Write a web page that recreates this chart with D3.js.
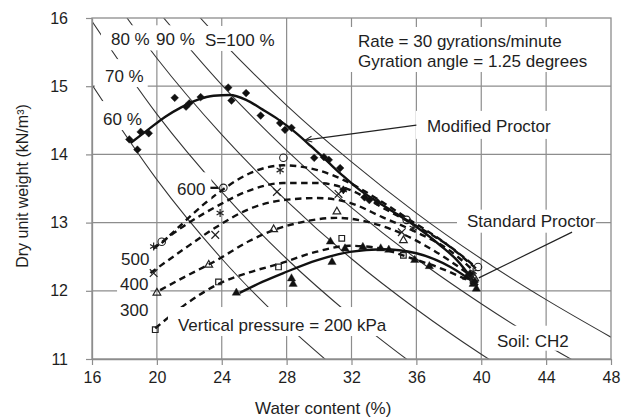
<!DOCTYPE html>
<html><head><meta charset="utf-8">
<script src="https://cdn.jsdelivr.net/npm/d3@7"></script>
<style>
body{margin:0;background:#fff}
svg{display:block}
text{font-family:"Liberation Sans",Arial,Helvetica,sans-serif;fill:#1e1e1e}
</style>
</head><body>
<svg id="chart" width="622" height="419"></svg>
<script>
// ---------------- data ----------------
const xTickValues = [16, 20, 24, 28, 32, 36, 40, 44, 48];
const yTickValues = [11, 12, 13, 14, 15, 16];
const xTitle = "Water content (%)";
const yTitle = "Dry unit weight (kN/m³)";

// saturation reference lines, [water content %, dry unit weight]
const saturationNames = ["60 %", "70 %", "80 %", "90 %", "S=100 %"];
const sat60  = [[16,15.02],[20,13.63],[24,12.47],[28,11.50],[32,10.67]];
const sat70  = [[16,15.95],[20,14.59],[24,13.45],[28,12.47],[32,11.63],[36,10.89]];
const sat80  = [[16,16.73],[20,15.41],[24,14.29],[28,13.32],[32,12.47],[36,11.73],[40,11.07],[44,10.48]];
const sat90  = [[20,16.12],[24,15.02],[28,14.06],[32,13.22],[36,12.47],[40,11.81],[44,11.21],[48,10.67]];
const sat100 = [[22,16.18],[24,15.66],[28,14.72],[32,13.89],[36,13.14],[40,12.47],[44,11.87],[48,11.32]];

// measured points
const modifiedPts = [[18.3,14.22],[18.8,14.07],[19.0,14.33],[19.5,14.31],[21.1,14.83],[21.8,14.70],[22.0,14.75],[22.7,14.84],[24.4,14.98],[24.6,14.79],[25.5,14.90],[26.4,14.57],[27.6,14.46],[27.9,14.36],[28.3,14.39],[29.7,13.95],[30.3,13.96],[30.6,13.92],[31.3,13.80],[31.5,13.48],[32.8,13.37],[33.1,13.33],[33.6,13.30],[39.3,12.25],[39.6,12.13]];
const standardPts = [[24.9,11.97],[28.3,12.18],[28.4,12.10],[30.7,12.72],[30.8,12.42],[31.6,12.62],[32.7,12.64],[33.8,12.62],[34.3,12.60],[35.9,12.45],[36.8,12.36],[39.1,12.20],[39.5,12.10],[39.7,12.03]];
const p600 = [[20.3,12.72],[24.1,13.51],[27.8,13.95],[35.4,13.04],[39.8,12.35]];
const p500 = [[19.8,12.65],[23.9,13.14],[27.6,13.77],[31.5,13.48],[35.8,12.92],[39.5,12.28]];
const p400 = [[19.8,12.26],[23.6,12.82],[27.4,13.45],[31.2,13.42],[35.1,12.86],[39.4,12.22]];
const p300 = [[20.0,11.97],[23.2,12.38],[27.2,12.90],[31.1,13.16],[35.2,12.74],[39.6,12.18]];
const p200 = [[19.9,11.43],[23.8,12.13],[27.5,12.35],[31.4,12.77],[35.2,12.52],[39.5,12.15]];

// fitted curves
const modifiedFit = [[18.4,14.17],[19.5,14.37],[20.5,14.55],[21.5,14.69],[22.5,14.80],[23.5,14.86],[24.5,14.87],[25.5,14.80],[26.5,14.66],[27.5,14.51],[28.5,14.33],[29.5,14.12],[30.5,13.90],[31.5,13.68],[32.5,13.48],[33.5,13.32],[34.5,13.17],[35.5,13.02],[36.5,12.85],[37.5,12.66],[38.5,12.45],[39.6,12.12]];
const standardFit = [[25.1,11.97],[26.5,12.13],[27.8,12.26],[29.9,12.45],[31.9,12.57],[33.9,12.61],[36.0,12.55],[38.1,12.35],[39.8,12.08]];
const fit600 = [[20.3,12.70],[21.6,12.99],[22.9,13.27],[24.1,13.49],[25.7,13.72],[27.8,13.84],[29.9,13.77],[31.9,13.58],[33.9,13.30],[35.4,13.07],[38.1,12.64],[39.8,12.30]];
const fit500 = [[19.8,12.62],[21.6,12.94],[23.7,13.24],[25.7,13.47],[27.8,13.58],[29.9,13.58],[31.9,13.48],[33.9,13.22],[36.0,12.95],[38.0,12.66],[39.6,12.36]];
const fit400 = [[19.6,12.26],[21.6,12.60],[23.7,12.94],[25.7,13.20],[27.8,13.33],[29.9,13.36],[31.9,13.29],[33.9,13.08],[36.0,12.86],[38.0,12.60],[39.5,12.30]];
const fit300 = [[20.2,12.01],[21.6,12.19],[23.7,12.45],[25.7,12.73],[27.2,12.89],[28.8,13.00],[31.1,13.07],[33.0,13.01],[35.0,12.85],[37.0,12.60],[39.5,12.20]];
const fit200 = [[19.9,11.45],[21.7,11.79],[23.8,12.10],[25.7,12.27],[27.6,12.40],[29.8,12.57],[31.9,12.66],[33.8,12.62],[35.4,12.50],[37.5,12.33],[39.5,12.12]];

const pressureLabels = ["600", "500", "400", "300", "Vertical pressure = 200 kPa"];
const noteLines = ["Rate = 30 gyrations/minute", "Gyration angle = 1.25 degrees"];
const curveNames = ["Modified Proctor", "Standard Proctor"];
const soilLabel = "Soil: CH2";

// ---------------- layout ----------------
const svg = d3.select("#chart");
const x = d3.scaleLinear().domain([16, 48]).range([92, 611]);
const y = d3.scaleLinear().domain([11, 16]).range([359, 18]);
const gridColor = "#8d8d8d";
const font = 17;

svg.append("defs").append("clipPath").attr("id", "plot")
  .append("rect").attr("x", x(16)).attr("y", y(16)).attr("width", x(48) - x(16)).attr("height", y(11) - y(16));
svg.select("defs").append("marker").attr("id", "arrow").attr("viewBox", "-10 -6 12 12")
  .attr("markerWidth", 10).attr("markerHeight", 10).attr("refX", 0).attr("refY", 0).attr("orient", "auto")
  .attr("markerUnits", "userSpaceOnUse")
  .append("path").attr("d", "M-8,-3.5 L0,0 L-8,3.5").attr("fill", "none").attr("stroke", "#222").attr("stroke-width", 1.2);

// grid
const grid = svg.append("g");
grid.selectAll(".vx").data(xTickValues.slice(1, -1)).join("line")
  .attr("x1", d => x(d)).attr("x2", d => x(d)).attr("y1", y(16)).attr("y2", y(11))
  .attr("stroke", gridColor).attr("stroke-width", 1.2);
grid.selectAll(".hy").data(yTickValues.slice(1, -1)).join("line")
  .attr("y1", d => y(d)).attr("y2", d => y(d)).attr("x1", x(16)).attr("x2", x(48))
  .attr("stroke", gridColor).attr("stroke-width", 1.2);

// saturation lines
const line = d3.line().x(d => x(d[0])).y(d => y(d[1])).curve(d3.curveMonotoneX);
const satG = svg.append("g").attr("clip-path", "url(#plot)");
[sat60, sat70, sat80, sat90, sat100].forEach(s => {
  satG.append("path").attr("d", line(s)).attr("fill", "none").attr("stroke", "#333").attr("stroke-width", 1.05);
});

// plot border
svg.append("rect").attr("x", x(16)).attr("y", y(16)).attr("width", x(48) - x(16)).attr("height", y(11) - y(16))
  .attr("fill", "none").attr("stroke", gridColor).attr("stroke-width", 1.3);

// axes
const xAxis = svg.append("g").attr("transform", `translate(0,${y(11)})`)
  .call(d3.axisBottom(x).tickValues(xTickValues).tickSize(6).tickSizeOuter(0).tickPadding(7).tickFormat(d3.format("d")));
const yAxis = svg.append("g").attr("transform", `translate(${x(16)},0)`)
  .call(d3.axisLeft(y).tickValues(yTickValues).tickSize(6).tickSizeOuter(0).tickPadding(18).tickFormat(d3.format("d")));
[xAxis, yAxis].forEach(a => {
  a.select(".domain").attr("stroke", gridColor).attr("stroke-width", 1.3);
  a.selectAll(".tick line").attr("stroke", gridColor).attr("stroke-width", 1.2);
  a.selectAll(".tick text").attr("font-size", 16).attr("fill", "#1e1e1e")
    .attr("font-family", '"Liberation Sans",Arial,sans-serif');
});
svg.append("text").attr("x", 255).attr("y", 414).attr("font-size", font).text(xTitle);
svg.append("text").attr("transform", "translate(28,186) rotate(-90)").attr("text-anchor", "middle")
  .attr("font-size", 16).text(yTitle);

// curves
const curveG = svg.append("g");
[fit600, fit500, fit400, fit300, fit200].forEach(c => {
  curveG.append("path").attr("d", line(c)).attr("fill", "none").attr("stroke", "#111")
    .attr("stroke-width", 2.4).attr("stroke-dasharray", "6.5,4.5");
});
[modifiedFit, standardFit].forEach(c => {
  curveG.append("path").attr("d", line(c)).attr("fill", "none").attr("stroke", "#111").attr("stroke-width", 2.4);
});

// annotation text with white boxes
const boxG = svg.append("g");
const textG = svg.append("g");
function label(lines, w, g, opts = {}) {
  const pad = Object.assign({l: 10, r: 4, t: 5, b: 1}, opts.pad || {});
  const lh = opts.lh || 20;
  const nodes = lines.map((s, i) => textG.append("text").attr("x", x(w)).attr("y", y(g) + i * lh)
    .attr("font-size", font).text(s));
  let x0 = Infinity, y0 = Infinity, x1 = -Infinity, y1 = -Infinity;
  nodes.forEach(n => {
    const b = n.node().getBBox();
    x0 = Math.min(x0, b.x); y0 = Math.min(y0, b.y);
    x1 = Math.max(x1, b.x + b.width); y1 = Math.max(y1, b.y + b.height);
  });
  boxG.append("rect").attr("x", x0 - pad.l).attr("y", y0 - pad.t)
    .attr("width", x1 - x0 + pad.l + pad.r).attr("height", y1 - y0 + pad.t + pad.b).attr("fill", "#fff");
}
label([saturationNames[2]], 17.17, 15.60);
label([saturationNames[3]], 19.95, 15.60, {pad: {l: 6}});
label([saturationNames[4]], 22.97, 15.59, {pad: {l: 6}});
label([saturationNames[1]], 16.80, 15.06, {pad: {t: 8}});
label([saturationNames[0]], 16.68, 14.43, {pad: {t: 9, l: 5}});
label(noteLines, 32.40, 15.575, {pad: {l: 11, r: 7, t: 5, b: 1}});
label([curveNames[0]], 36.65, 14.33, {pad: {l: 11, r: 8, t: 6, b: 3}});
label([curveNames[1]], 39.12, 12.94, {pad: {l: 10, r: 0, t: 2, b: 2}});
label([soilLabel], 40.97, 11.18, {pad: {l: 7, r: 8, t: 6, b: 0}});
label([pressureLabels[4]], 21.30, 11.41, {pad: {l: 10, r: 5, t: 9, b: 1}});
label([pressureLabels[0]], 21.24, 13.40, {pad: {l: 3, r: 6, t: 8, b: 1}});
label([pressureLabels[1]], 17.79, 12.38, {pad: {l: 3, r: 2, t: 2, b: 1}});
label([pressureLabels[2]], 17.73, 12.01, {pad: {l: 3, r: 2, t: 2, b: 1}});
label([pressureLabels[3]], 17.73, 11.63, {pad: {l: 3, r: 2, t: 2, b: 1}});

// leaders / arrows
const annG = svg.append("g");
annG.append("line").attr("x1", x(36.0)).attr("y1", y(14.43)).attr("x2", x(29.15)).attr("y2", y(14.21))
  .attr("stroke", "#222").attr("stroke-width", 1.2).attr("marker-end", "url(#arrow)");
annG.append("line").attr("x1", x(45.6)).attr("y1", y(12.86)).attr("x2", x(39.85)).attr("y2", y(12.19))
  .attr("stroke", "#222").attr("stroke-width", 1.2);
annG.append("line").attr("x1", x(23.30)).attr("y1", y(13.51)).attr("x2", x(23.78)).attr("y2", y(13.51))
  .attr("stroke", "#111").attr("stroke-width", 2.3);

// markers
const markG = svg.append("g");
function plot(pts, type, size, filled, sw, rot) {
  const sym = d3.symbol().type(type).size(size);
  markG.selectAll(null).data(pts).join("path")
    .attr("transform", d => `translate(${x(d[0])},${y(d[1])}) rotate(${rot || 0})`)
    .attr("d", sym)
    .attr("fill", filled ? "#111" : "none")
    .attr("stroke", "#222").attr("stroke-width", sw || 1.1);
}
plot(p200, d3.symbolSquare2, 40, false, 1.2);
plot(p300, d3.symbolTriangle2, 42, false, 1.2);
plot(p400, d3.symbolTimes, 40, false, 1.2);
plot(p500, d3.symbolAsterisk, 46, false, 1.2);
plot(p600, d3.symbolCircle, 44, false, 1.1);
plot(standardPts, d3.symbolTriangle, 30, true, 0.4);
plot(modifiedPts, d3.symbolSquare, 30, true, 0.4, 45);
</script>
</body></html>
